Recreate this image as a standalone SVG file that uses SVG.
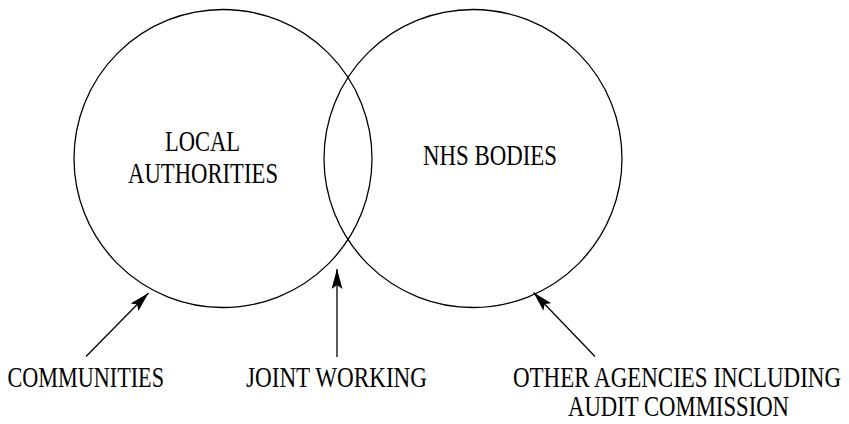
<svg xmlns="http://www.w3.org/2000/svg" width="849" height="424" viewBox="0 0 849 424">
<style>
.c{fill:none;stroke:#000;stroke-width:1.3}
.t{font-family:"Liberation Serif","Times New Roman",serif;font-size:29px;fill:#000}
.a{stroke:#000;stroke-width:1.3;fill:none;marker-end:url(#ah)}
</style>
<defs>
<marker id="ah" viewBox="0 0 20 11" refX="20" refY="5.5" markerWidth="20" markerHeight="11" markerUnits="userSpaceOnUse" orient="auto">
<path d="M0,0 L20,5.5 L0,11 L4,5.5 z" fill="#000"/>
</marker>
</defs>
<rect width="849" height="424" fill="#fff"/>
<g id="local-authorities">
<circle class="c" cx="223" cy="158.5" r="149"/>
<text class="t" x="202.5" y="150.5" text-anchor="middle" textLength="75" lengthAdjust="spacingAndGlyphs">LOCAL</text>
<text class="t" x="203" y="182.5" text-anchor="middle" textLength="150" lengthAdjust="spacingAndGlyphs">AUTHORITIES</text>
</g>
<g id="nhs-bodies">
<circle class="c" cx="473" cy="158.5" r="149"/>
<text class="t" x="490" y="165" text-anchor="middle" textLength="134" lengthAdjust="spacingAndGlyphs">NHS BODIES</text>
</g>
<g id="communities">
<text class="t" x="7.5" y="386.5" textLength="156.5" lengthAdjust="spacingAndGlyphs">COMMUNITIES</text>
</g>
<g id="joint-working">
<text class="t" x="246" y="386.5" textLength="181" lengthAdjust="spacingAndGlyphs">JOINT WORKING</text>
</g>
<g id="other-agencies">
<text class="t" x="513" y="386.5" textLength="328" lengthAdjust="spacingAndGlyphs">OTHER AGENCIES INCLUDING</text>
<text class="t" x="678.5" y="416" text-anchor="middle" textLength="221" lengthAdjust="spacingAndGlyphs">AUDIT COMMISSION</text>
</g>
<g id="connectors">
<line class="a" x1="86" y1="356.5" x2="148.5" y2="293"/>
<line class="a" x1="337" y1="357" x2="337" y2="269"/>
<line class="a" x1="595" y1="356.5" x2="533.5" y2="292.5"/>
</g>
</svg>
